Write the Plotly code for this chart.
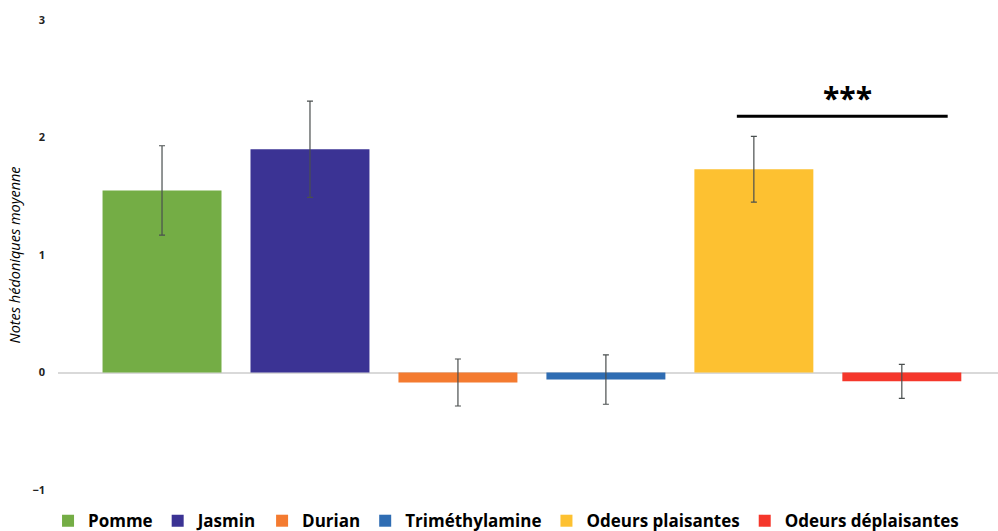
import plotly.graph_objects as go

categories = ["Pomme", "Jasmin", "Durian", "Triméthylamine", "Odeurs plaisantes", "Odeurs déplaisantes"]
means = [1.55, 1.90, -0.085, -0.06, 1.73, -0.075]
errors = [0.38, 0.41, 0.20, 0.21, 0.28, 0.145]
colors = ["#74ad45", "#3b3394", "#f47b30", "#2f6db3", "#fdc131", "#f5372b"]
y_ticks = [-1, 0, 1, 2, 3]
sig_text = "***"

fig = go.Figure()
for cat, m, e, c in zip(categories, means, errors, colors):
    fig.add_trace(go.Bar(
        x=[cat], y=[m], name=cat, marker=dict(color=c, line=dict(width=0)),
        error_y=dict(type="data", array=[e], visible=True, color="#4a4f4f",
                     thickness=1.2, width=3),
    ))

# significance bracket between the two grouped categories
fig.add_shape(type="line", xref="x", yref="y", x0=3.885, x1=5.31, y0=2.18, y1=2.18,
              line=dict(color="black", width=3))
fig.add_annotation(x=4.635, y=2.34, xref="x", yref="y", text=sig_text, showarrow=False,
                   font=dict(family="Open Sans", size=30, color="black", weight="bold"))

fig.update_layout(
    width=998, height=531,
    margin=dict(l=58, r=0, t=20, b=41, autoexpand=False),
    paper_bgcolor="white", plot_bgcolor="white",
    barmode="overlay", bargap=0.196,
    showlegend=True,
    legend=dict(orientation="h", x=-0.0106, xanchor="left", y=-0.028, yanchor="top",
                font=dict(family="Open Sans", size=17, color="black", weight="bold"),
                itemwidth=30, traceorder="normal", tracegroupgap=0),
    font=dict(family="Open Sans", color="black"),
)
fig.update_xaxes(type="category", categoryorder="array", categoryarray=categories,
                 range=[-0.703, 5.65], showticklabels=False, showgrid=False,
                 showline=False, zeroline=False, ticks="")
fig.update_yaxes(range=[-1, 3], tickvals=y_ticks, showgrid=False, showline=False,
                 zeroline=True, zerolinecolor="#d9d9d9", zerolinewidth=1.5,
                 ticks="", ticklabelstandoff=12, automargin=False,
                 tickfont=dict(family="Open Sans", size=11, color="#222222", weight="bold"),
                 title=dict(text="<i>Notes hédoniques moyenne</i>", standoff=8,
                            font=dict(family="Open Sans", size=14.5, color="black")))

fig.write_html("out.html", config={"displayModeBar": False},
               post_script="document.body.style.margin='0';document.body.style.overflow='hidden';")
